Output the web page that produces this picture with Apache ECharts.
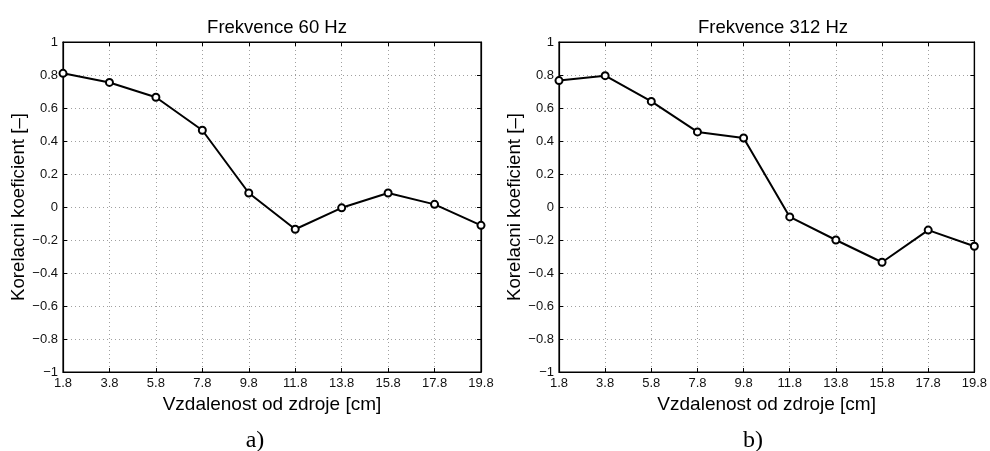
<!DOCTYPE html>
<html>
<head>
<meta charset="utf-8">
<script src="https://cdn.jsdelivr.net/npm/echarts@6/dist/echarts.min.js"></script>
<style>
html,body{margin:0;padding:0;background:#fff;}
#c{width:990px;height:451px;}
</style>
</head>
<body>
<div id="c"></div>
<script>
// Data
var distances = ['1.8','3.8','5.8','7.8','9.8','11.8','13.8','15.8','17.8','19.8'];
var corr60 = [0.81, 0.755, 0.665, 0.465, 0.085, -0.135, -0.005, 0.085, 0.016, -0.111];
var corr312 = [0.766, 0.796, 0.64, 0.455, 0.418, -0.06, -0.2, -0.335, -0.14, -0.238];
var titles = ['Frekvence 60 Hz', 'Frekvence 312 Hz'];
var panelLabels = ['a)', 'b)'];
var xName = 'Vzdalenost od zdroje [cm]';
var yName = 'Korelacni koeficient [\u2013]';

var FONT = '"Liberation Sans", Arial, Helvetica, sans-serif';
var chart = echarts.init(document.getElementById('c'), null, {renderer: 'canvas'});

var grids = [
  {left: 63, top: 42, width: 418, height: 330, show: true, borderColor: '#000', borderWidth: 1.2, backgroundColor: 'transparent'},
  {left: 559, top: 42, width: 418, height: 330, show: true, borderColor: '#000', borderWidth: 1.2, backgroundColor: 'transparent'}
];

function fmtY(v) {
  var r = Math.round(v * 10) / 10;
  if (Math.abs(r) < 1e-9) return '0';
  var s = String(Math.abs(r));
  return (r < 0 ? '\u2212' : '') + s;
}

var xAxes = [], yAxes = [], series = [];
[0, 1].forEach(function (g) {
  xAxes.push({
    gridIndex: g, type: 'category', data: distances, boundaryGap: false,
    position: 'bottom',
    axisLine: {show: true, onZero: false, lineStyle: {color: '#000', width: 1.2}},
    axisTick: {show: true, inside: true, length: 4, lineStyle: {color: '#000'}},
    axisLabel: {color: '#111', fontSize: 13, fontFamily: FONT, margin: 5, interval: 0},
    splitLine: {show: true, interval: 0, lineStyle: {color: '#a0a0a0', type: [1, 3], width: 1}},
    name: xName, nameLocation: 'middle', nameGap: 12,
    nameTextStyle: {color: '#000', fontSize: 19, fontFamily: FONT}
  });
  xAxes.push({
    gridIndex: g, type: 'category', data: distances, boundaryGap: false,
    position: 'top',
    axisLine: {show: true, onZero: false, lineStyle: {color: '#000', width: 1.2}},
    axisTick: {show: true, inside: true, length: 4, lineStyle: {color: '#000'}},
    axisLabel: {show: false}, splitLine: {show: false}
  });
  yAxes.push({
    gridIndex: g, type: 'value', min: -1, max: 1, interval: 0.2,
    position: 'left',
    axisLine: {show: true, onZero: false, lineStyle: {color: '#000', width: 1.2}},
    axisTick: {show: true, inside: true, length: 4, lineStyle: {color: '#000'}},
    axisLabel: {color: '#111', fontSize: 13, fontFamily: FONT, margin: 5, formatter: fmtY},
    splitLine: {show: true, lineStyle: {color: '#a0a0a0', type: [1, 3], width: 1}},
    name: yName, nameLocation: 'middle', nameGap: 32,
    nameTextStyle: {color: '#000', fontSize: 18.7, fontFamily: FONT}
  });
  yAxes.push({
    gridIndex: g, type: 'value', min: -1, max: 1, interval: 0.2,
    position: 'right',
    axisLine: {show: true, onZero: false, lineStyle: {color: '#000', width: 1.2}},
    axisTick: {show: true, inside: true, length: 4, lineStyle: {color: '#000'}},
    axisLabel: {show: false}, splitLine: {show: false}
  });
});

[corr60, corr312].forEach(function (d, g) {
  series.push({
    type: 'line', xAxisIndex: g * 2, yAxisIndex: g * 2, data: d,
    symbol: 'emptyCircle', symbolSize: 7, showSymbol: true,
    lineStyle: {color: '#000', width: 2},
    itemStyle: {color: '#000', borderColor: '#000', borderWidth: 1.6},
    animation: false, silent: true, z: 5
  });
});

var titleOpts = [];
titles.forEach(function (t, i) {
  titleOpts.push({
    text: t, left: (i === 0 ? 272 : 768), top: 13, textAlign: 'center',
    textStyle: {color: '#000', fontSize: 18.5, fontWeight: 'normal', fontFamily: FONT}
  });
});
panelLabels.forEach(function (t, i) {
  titleOpts.push({
    text: t, left: (i === 0 ? 250 : 748), top: 424, textAlign: 'center',
    textStyle: {color: '#000', fontSize: 24, fontWeight: 'normal', fontFamily: '"Liberation Serif", "DejaVu Serif", serif'}
  });
});

chart.setOption({
  animation: false,
  backgroundColor: '#fff',
  title: titleOpts,
  grid: grids,
  xAxis: xAxes,
  yAxis: yAxes,
  series: series
});
</script>
</body>
</html>
